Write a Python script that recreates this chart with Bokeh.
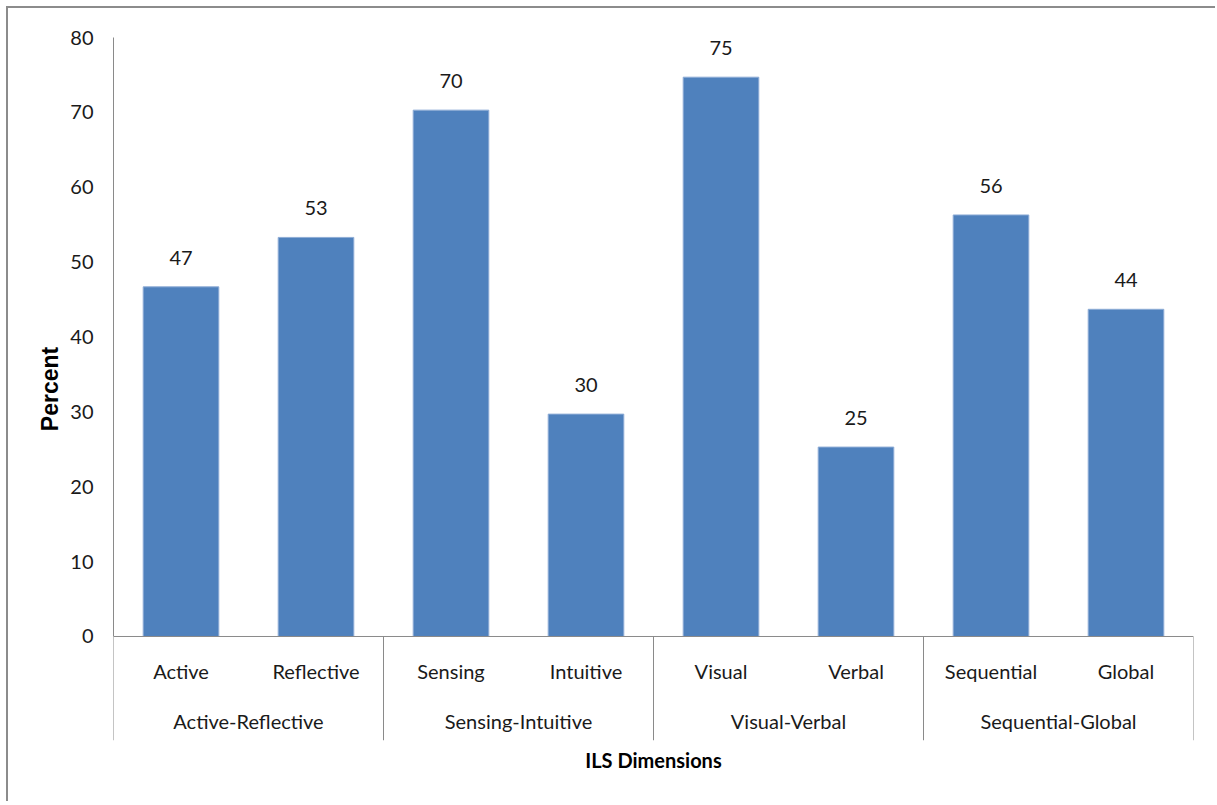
from bokeh.plotting import figure
from bokeh.models import Range1d, FixedTicker, ColumnDataSource
from bokeh.core.properties import value
from bokeh.embed import file_html
from bokeh.resources import INLINE

# ---- data ----
categories = ["Active", "Reflective", "Sensing", "Intuitive",
              "Visual", "Verbal", "Sequential", "Global"]
groups = ["Active-Reflective", "Sensing-Intuitive", "Visual-Verbal", "Sequential-Global"]
percent = [46.7, 53.3, 70.3, 29.7, 74.7, 25.3, 56.3, 43.7]
y_ticks = [0, 10, 20, 30, 40, 50, 60, 70, 80]

FONT = "Lato"
TXT = "#1a1a1a"
AX = "#8a8a8a"
BAR = "#4F81BD"

n = len(categories)
xs = [i + 0.5 for i in range(n)]
labels = [str(int(round(v))) for v in percent]
gx = [2 * i + 1.0 for i in range(len(groups))]
sep_x = [2.0 * i for i in range(len(groups) + 1)]

Y_BOTTOM = -13.89
Y_CAT = -4.67
Y_GRP = -11.35

p = figure(width=1209, height=795, output_backend="svg", toolbar_location=None,
           x_range=Range1d(0, n), y_range=Range1d(Y_BOTTOM, 80),
           min_border_left=105, min_border_right=24, min_border_top=29,
           min_border_bottom=63,
           styles={"margin-top": "6px", "margin-left": "6px",
                   "border-top": "2px solid #8c8c8c", "border-left": "2px solid #8c8c8c",
                   "border-right": "none", "border-bottom": "none"})
p.outline_line_color = None
p.xgrid.visible = False
p.ygrid.visible = False
p.background_fill_color = "white"
p.border_fill_color = "white"

src = ColumnDataSource(dict(x=xs, top=percent, lab=labels, cat=categories))
p.vbar(x="x", top="top", bottom=0, width=0.56, source=src,
       fill_color=BAR, line_color="#8eacd6", line_width=1)

# data labels
p.text(x="x", y="top", text="lab", source=src, text_align="center",
       text_baseline="alphabetic", y_offset=-29, text_font=value(FONT),
       text_font_size="20px", text_color=TXT)

# baseline and group separators
p.segment(x0=[0], y0=[0], x1=[n], y1=[0], line_color=AX, line_width=1)
p.segment(x0=sep_x, y0=[0] * len(sep_x), x1=sep_x, y1=[Y_BOTTOM] * len(sep_x),
          line_color=AX, line_width=1)

# category labels
p.text(x="x", y=Y_CAT, text="cat", source=src, text_align="center",
       text_baseline="middle", text_font=value(FONT), text_font_size="20px",
       text_color=TXT)
gsrc = ColumnDataSource(dict(x=gx, g=groups))
p.text(x="x", y=Y_GRP, text="g", source=gsrc, text_align="center",
       text_baseline="middle", text_font=value(FONT), text_font_size="20px",
       text_color=TXT)

# y axis
ya = p.yaxis[0]
ya.ticker = FixedTicker(ticks=y_ticks)
ya.bounds = (0, 80)
ya.major_tick_out = 0
ya.major_tick_in = 0
ya.minor_tick_out = 0
ya.minor_tick_in = 0
ya.axis_line_color = AX
ya.major_label_standoff = 20
ya.major_label_text_font = FONT
ya.major_label_text_font_size = "20px"
ya.major_label_text_color = TXT
ya.axis_label = "Percent"
ya.axis_label_text_font = "Liberation Sans"
ya.axis_label_text_font_size = "23px"
ya.axis_label_text_font_style = "bold"
ya.axis_label_text_color = "black"
ya.axis_label_standoff = 4

# x axis: only the title
xa = p.xaxis[0]
xa.ticker = FixedTicker(ticks=[])
xa.axis_line_color = None
xa.major_tick_out = 0
xa.major_tick_in = 0
xa.minor_tick_out = 0
xa.minor_tick_in = 0
xa.major_label_standoff = 0
xa.axis_label = "ILS Dimensions"
xa.axis_label_text_font = FONT
xa.axis_label_text_font_size = "20px"
xa.axis_label_text_font_style = "bold"
xa.axis_label_text_color = "black"
xa.axis_label_standoff = 7

open("out.html", "w").write(file_html(p, INLINE))
